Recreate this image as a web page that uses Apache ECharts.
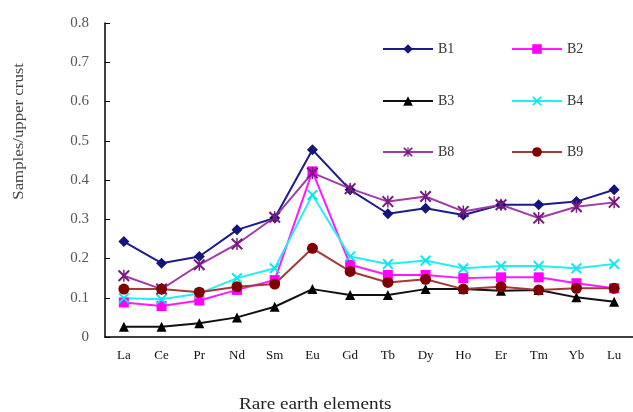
<!DOCTYPE html>
<html><head><meta charset="utf-8">
<script src="https://cdn.jsdelivr.net/npm/echarts@6/dist/echarts.min.js"></script>
<style>html,body{margin:0;padding:0;background:#fff}#c{width:633px;height:412px}</style>
</head><body><div id="c"></div>
<script>
var categories = ['La','Ce','Pr','Nd','Sm','Eu','Gd','Tb','Dy','Ho','Er','Tm','Yb','Lu'];
var B1 = [0.243,0.188,0.205,0.273,0.303,0.477,0.375,0.314,0.328,0.311,0.337,0.337,0.345,0.375];
var B2 = [0.088,0.079,0.093,0.120,0.145,0.422,0.184,0.158,0.158,0.150,0.152,0.152,0.137,0.124];
var B3 = [0.026,0.026,0.035,0.050,0.077,0.122,0.107,0.107,0.122,0.122,0.118,0.120,0.101,0.090];
var B4 = [0.099,0.096,0.111,0.150,0.175,0.362,0.205,0.186,0.195,0.175,0.181,0.181,0.175,0.186];
var B8 = [0.156,0.122,0.184,0.237,0.305,0.418,0.378,0.345,0.358,0.320,0.337,0.303,0.332,0.343];
var B9 = [0.122,0.122,0.114,0.128,0.135,0.226,0.167,0.139,0.147,0.122,0.128,0.120,0.124,0.124];
var yTicks = [0,0.1,0.2,0.3,0.4,0.5,0.6,0.7,0.8];

var xPath = 'path://M0,1.2L1.2,0L5,3.8L8.8,0L10,1.2L6.2,5L10,8.8L8.8,10L5,6.2L1.2,10L0,8.8L3.8,5Z';
var starPath = 'path://M0,1.2L1.2,0L5,3.8L8.8,0L10,1.2L6.2,5L10,8.8L8.8,10L5,6.2L1.2,10L0,8.8L3.8,5ZM4.4,0L5.6,0L5.6,10L4.4,10Z';
var serif = '"Liberation Serif","DejaVu Serif",serif';

var defs = [
  {name:'B1', data:B1, color:'#1c1c8a', mcolor:'#14147a', symbol:'diamond', size:11},
  {name:'B2', data:B2, color:'#ff1aff', mcolor:'#ff00ff', symbol:'rect', size:10},
  {name:'B3', data:B3, color:'#111111', mcolor:'#000000', symbol:'triangle', size:10},
  {name:'B4', data:B4, color:'#22f0f0', mcolor:'#00e8f0', symbol:xPath, size:11},
  {name:'B8', data:B8, color:'#a03ca8', mcolor:'#7a1a80', symbol:starPath, size:12},
  {name:'B9', data:B9, color:'#a33a3a', mcolor:'#800000', symbol:'circle', size:11}
];
var legendPos = [[377,37],[506,37],[377,89],[506,89],[377,140],[506,140]];

var chart = echarts.init(document.getElementById('c'));
chart.setOption({
  animation:false,
  backgroundColor:'#fff',
  grid:{left:105, top:23, bottom:75, right:-9, containLabel:false},
  legend: defs.map(function(d,i){ return {
    data:[d.name], left:legendPos[i][0], top:legendPos[i][1], itemWidth:50, itemHeight:12,
    textStyle:{fontFamily:serif, fontSize:14, color:'#333'}
  };}),
  xAxis:{type:'category', data:categories, boundaryGap:true,
    axisLine:{lineStyle:{color:'#000', width:1.5}},
    axisTick:{inside:true, length:5, lineStyle:{color:'#000'}},
    axisLabel:{fontFamily:serif, fontSize:13, color:'#111', margin:12}},
  yAxis:{type:'value', min:0, max:0.8, interval:0.1,
    axisLine:{show:true, lineStyle:{color:'#000', width:1.5}},
    axisTick:{show:true, inside:true, length:5, lineStyle:{color:'#000'}},
    splitLine:{show:false},
    axisLabel:{fontFamily:serif, fontSize:15, color:'#555', margin:16,
      formatter:function(v){ return yTicks.indexOf(Math.round(v*10)/10)>=0 ? String(Math.round(v*10)/10) : ''; }}},
  graphic:[
    {type:'text', x:12, y:63, rotation:Math.PI/2, scaleX:1.12, originX:0, originY:0,
      style:{text:'Samples/upper crust', font:'15px '+serif, fill:'#444', align:'right', verticalAlign:'top'}},
    {type:'text', x:239, y:397, scaleX:1.2, style:{text:'Rare earth elements', font:'16px '+serif, fill:'#222'}}
  ],
  series: defs.map(function(d){ return {
    name:d.name, type:'line', data:d.data, symbol:d.symbol, symbolSize:d.size, showAllSymbol:true,
    lineStyle:{color:d.color, width:2}, itemStyle:{color:d.mcolor}
  };})
});
</script></body></html>
